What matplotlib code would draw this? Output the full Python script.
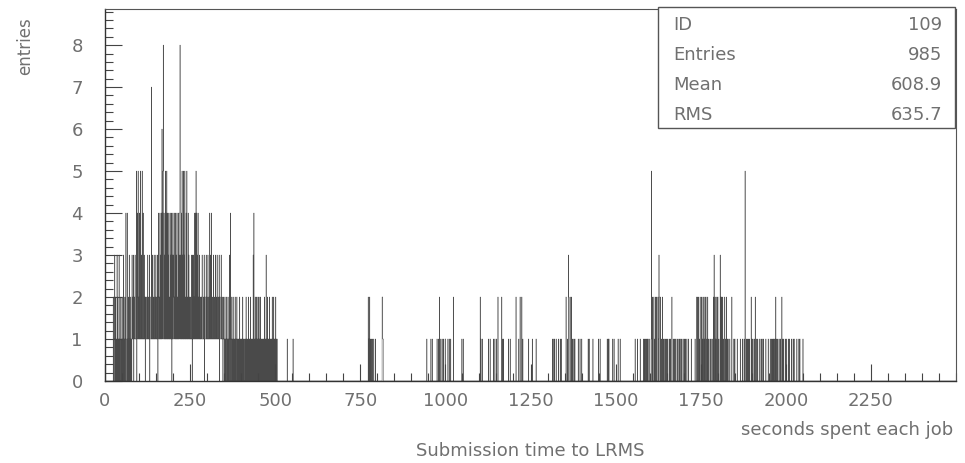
import numpy as np
import matplotlib
matplotlib.use("Agg")
import matplotlib.pyplot as plt
from matplotlib.ticker import MultipleLocator

# 1-second bins from 0 to 2500 s; only the non-empty stretches are listed,
# one digit per bin (entries in that bin), grouped by ten for reading
n_bins = 2500
x_max = 2500
segment_starts = [20, 530, 770, 940, 1045, 1100, 1120, 1310, 1550]
segment_digits = [
    "0000200130 2001030201 0301002010 2010301020 1400140102 0301020103 "
    "1213022131 1150241512 1411511315 1141131202 2112131121 3022117113 "
    "1121311213 1121302412 1413141614 5814131514 1514131412 1413140314 "
    "1324121413 1412141314 8131415131 5131512141 5121413121 1211310313 "
    "1214141514 1314121312 1121231121 1302211312 1131121411 3141121131 "
    "1211311213 1121130221 1311210121 0120101201 0201031041 0120102010 "
    "1020101201 0101020101 1010201010 0101201010 0201010201 0101030401 "
    "0201020102 0120102010 1010101020 1013010201 0102010101 0201020101 "
    "0201010000",
    "00000100000000000000001",
    "0002010201 0010010001 0000100000 0000000000 0000221100",
    "0000010000 0000000100 0100000000 0000010001 0020001000 1000100001 "
    "1000000100 0100010000 0002000000",
    "00010001",
    "0020100010",
    "0000001000 0100000000 0100010000 1000200000 0000020010 1000000000 "
    "0000010000 1000000000 0000000200 0000010002 0000200100 0000000000 "
    "0000100000 0000010000 0000001000",
    "0000100010 1000010000 0010000100 1000000000 0000200010 0320002000 "
    "2001000100 1000000000 1000010000 1000000000 0000000001 0010000000 "
    "0001000000 0000000001 0000100000 0000000000 0000010010 1000000000 "
    "0100010000 0000000100 0001000000",
    "0000000100 0000100000 0010000000 0010100100 1001010000 1000051020 "
    "0020100200 2000201320 0200100200 1000100100 1001000010 0100020001 "
    "0010010000 1001000100 0100100010 0010010001 0000100000 0010000000 "
    "0001000020 0200201000 2002010200 1020020010 2001000100 1000010203 "
    "0020100200 2001000302 0200201000 2001020010 1000010000 0200000100 "
    "1000000100 0000001000 0010000100 5000100100 1001000020 1001000100 "
    "2000100100 0001000100 1000100000 0100000010 0000100010 1001010010 "
    "2001001000 1000100020 1001000010 0100000100 1000001000 0100100000 "
    "0010000010 0100000000 1000000000",
]

stat_names = ["ID", "Entries", "Mean", "RMS"]
stat_values = ["109", "985", "608.9", "635.7"]

counts = np.zeros(n_bins)
for start, digits in zip(segment_starts, segment_digits):
    digits = digits.replace(" ", "")
    for i, ch in enumerate(digits):
        counts[start + i] = int(ch)
edges = np.linspace(0, x_max, n_bins + 1)

grey = "#707070"
font = "DejaVu Sans"

fig = plt.figure(figsize=(9.65, 4.63), dpi=100)
ax = fig.add_axes([105 / 965, 1 - 381 / 463, 851 / 965, 372 / 463])

# outline histogram; the bins are narrower than a pixel so edges blend to grey
steps = ax.stairs(counts, edges, color="#4a4a4a", linewidth=0.35, baseline=0)
steps.set_snap(False)

ax.set_xlim(0, x_max)
ax.set_ylim(0, 8.86)
ax.xaxis.set_minor_locator(MultipleLocator(50))
ax.yaxis.set_minor_locator(MultipleLocator(0.2))
ax.set_xticks(np.arange(0, 2251, 250))
ax.set_yticks(np.arange(0, 9))
ax.tick_params(which="both", direction="in", top=False, right=False,
               color="#444444", width=0.8)
ax.tick_params(which="major", length=12)
ax.tick_params(which="minor", length=6)
ax.tick_params(axis="y", which="major", pad=16, labelsize=13, labelcolor=grey)
ax.tick_params(axis="x", which="major", pad=8, labelsize=13, labelcolor=grey)
for lab in ax.get_xticklabels() + ax.get_yticklabels():
    lab.set_family(font)

for side in ["left", "bottom"]:
    ax.spines[side].set_color("#333333")
    ax.spines[side].set_linewidth(1.0)
for side in ["top", "right"]:
    ax.spines[side].set_color("#555555")
    ax.spines[side].set_linewidth(0.8)

fig.text(25 / 965, 1 - 46 / 463, "entries", rotation=90, ha="center",
         va="center", fontsize=12, color=grey, family=font)
fig.text(953 / 965, 1 - 430 / 463, "seconds spent each job", ha="right",
         va="center", fontsize=13, color=grey, family=font)
fig.text(530 / 965, 1 - 451 / 463, "Submission time to LRMS", ha="center",
         va="center", fontsize=13, color=grey, family=font)

# statistics box in the upper right corner
box = plt.Rectangle((658 / 965, 1 - 128 / 463), 297 / 965, 121 / 463,
                    transform=fig.transFigure, facecolor="white",
                    edgecolor="#555555", linewidth=1.0, zorder=5)
fig.add_artist(box)
for i, (name, value) in enumerate(zip(stat_names, stat_values)):
    y = 1 - (25 + 30 * i) / 463
    fig.text(673 / 965, y, name, ha="left", va="center", fontsize=13,
             color=grey, family=font, zorder=6)
    fig.text(942 / 965, y, value, ha="right", va="center", fontsize=13,
             color=grey, family=font, zorder=6)

fig.savefig("out.png", dpi=100)
